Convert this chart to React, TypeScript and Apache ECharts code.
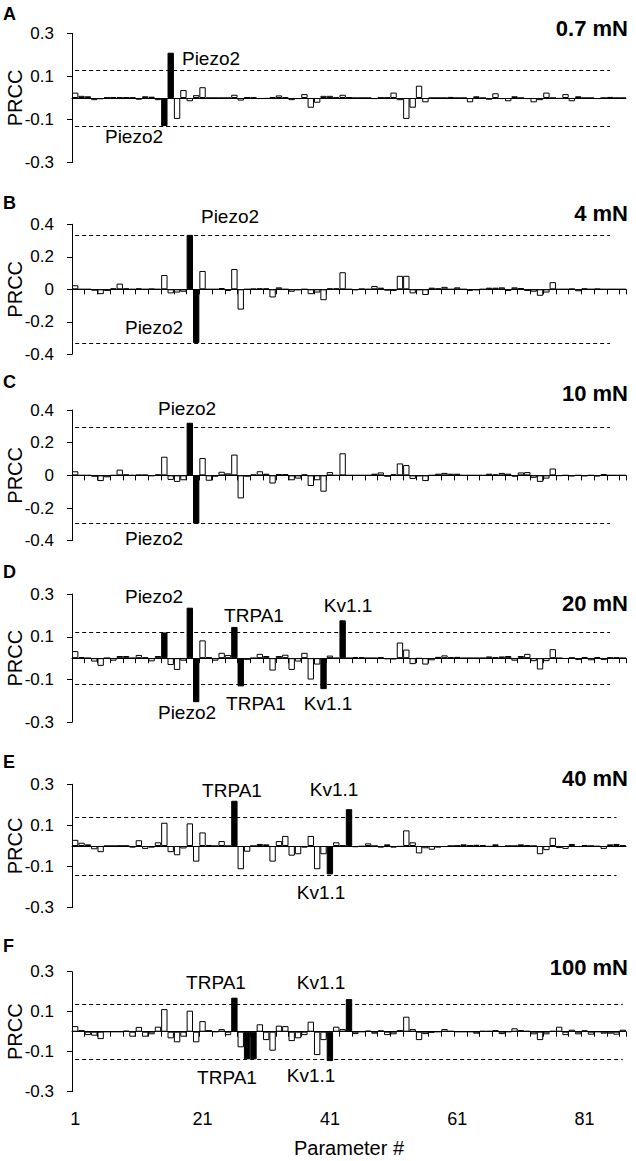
import React, { useEffect, useRef } from "react";
import * as echarts from "echarts";

// ---------- data ----------
const PARAMETERS: string[] = Array.from({ length: 87 }, (_, i) => String(i + 1));
const X_TICK_LABELS = ["1", "21", "41", "61", "81"];

const PRCC_0_7: number[] = [
  0.025, 0.01, 0.008, -0.01, -0.006, 0.002, 0.003, 0.004, 0.003, 0.002,
  -0.008, 0.008, 0.006, -0.01, -0.13, 0.21, -0.097, 0.037, -0.015, 0.013,
  0.05, 0, 0, 0, 0, 0.015, -0.012, 0.003, 0.002, -0.005,
  -0.004, 0.004, 0.012, 0.003, -0.01, -0.005, 0.018, -0.045, -0.022, 0.01,
  0.01, 0.002, 0.015, 0.003, 0, 0, 0, -0.005, 0.002, 0.002,
  0.025, -0.01, -0.097, -0.045, 0.057, -0.02, 0, 0, 0, 0.005,
  0, 0, -0.02, 0.008, 0, -0.008, 0.022, -0.005, -0.015, 0.008,
  0, -0.005, -0.02, -0.01, 0.025, 0, -0.004, 0.018, -0.015, 0.008,
  0, 0, -0.005, 0, 0.005, 0, 0,
];
const PRCC_4: number[] = [
  0.025, 0, 0, -0.008, -0.03, -0.01, 0.005, 0.035, 0.005, 0,
  0.005, 0, 0.003, 0, 0.088, -0.025, -0.02, -0.015, 0.335, -0.33,
  0.113, 0, 0, 0.008, -0.01, 0.125, -0.125, 0, 0.003, 0.005,
  0.005, -0.05, 0.012, 0, -0.015, -0.005, 0, -0.03, -0.02, -0.067,
  0.005, 0.005, 0.105, 0, -0.005, 0.003, 0, 0.02, 0.01, -0.008,
  -0.01, 0.083, 0.083, -0.025, -0.005, -0.035, 0.01, 0.005, 0.015, 0,
  0.012, 0, -0.01, -0.005, 0, 0.01, 0.01, 0.012, -0.01, 0.012,
  0.008, -0.01, -0.015, -0.04, -0.02, 0.044, 0, 0, 0.003, -0.012,
  0.005, 0, 0.003, 0, 0, 0, 0,
];
const PRCC_10: number[] = [
  0.025, 0, 0, -0.008, -0.035, -0.012, 0, 0.035, 0.005, 0,
  0.003, 0.003, -0.004, 0.005, 0.114, -0.028, -0.04, -0.03, 0.322, -0.295,
  0.106, -0.033, -0.008, 0.022, 0.012, 0.127, -0.141, -0.008, 0.005, 0.025,
  0.01, -0.05, 0.008, 0.008, -0.03, -0.02, 0.005, -0.065, -0.03, -0.1,
  0.02, 0, 0.135, 0, 0, 0, 0, 0.01, 0.018, -0.008,
  0.006, 0.073, 0.063, -0.022, -0.005, -0.035, 0, 0.01, 0.015, 0.01,
  0.01, 0, 0, 0, 0, 0.01, 0.005, 0.015, 0.01, -0.008,
  0.018, 0.02, -0.015, -0.04, -0.02, 0.042, -0.003, 0, -0.006, 0,
  -0.005, 0, -0.006, 0.008, 0, 0, 0,
];
const PRCC_20: number[] = [
  0.033, 0.005, 0, -0.016, -0.036, 0, -0.012, 0.01, 0.01, 0,
  0.015, 0.003, -0.015, 0.01, 0.12, -0.032, -0.055, -0.012, 0.236, -0.206,
  0.083, 0.004, -0.012, 0.025, 0.015, 0.146, -0.132, -0.008, 0, 0.02,
  0.01, -0.058, 0.01, 0.016, -0.055, -0.016, 0.025, -0.1, -0.03, -0.145,
  0.012, 0, 0.177, 0, 0.005, 0.004, 0, 0, 0.004, -0.005,
  -0.006, 0.073, 0.04, -0.028, -0.002, -0.03, -0.01, 0.006, 0.013, 0.004,
  0.006, 0, 0, 0, 0, 0.008, 0.004, 0.008, 0.01, -0.012,
  0.01, 0.02, -0.014, -0.053, -0.014, 0.042, 0, -0.003, 0.002, -0.008,
  0.004, -0.01, 0.004, -0.008, 0.003, 0.003, 0,
];
const PRCC_40: number[] = [
  0.03, 0.016, 0.008, -0.016, -0.03, 0, 0, 0.001, 0.001, -0.008,
  0.028, -0.014, -0.008, 0.018, 0.113, -0.03, -0.045, -0.012, 0.11, -0.076,
  0.066, 0.005, 0, 0.024, 0, 0.22, -0.113, -0.028, 0, 0.01,
  0.008, -0.076, 0.024, 0.049, -0.047, -0.04, -0.008, 0.049, -0.113, -0.04,
  -0.138, 0.018, 0.002, 0.179, -0.006, -0.003, 0.013, 0, -0.008, 0.008,
  -0.008, -0.004, 0.076, 0.018, -0.036, -0.011, -0.018, -0.008, -0.005, 0,
  0.002, 0.008, 0.003, 0.006, 0.004, -0.004, 0.008, -0.005, 0, 0,
  0.008, 0.003, 0, -0.04, -0.02, 0.04, -0.01, -0.014, 0.01, -0.005,
  0.005, 0, -0.003, -0.014, 0.008, 0.01, 0.005,
];
const PRCC_100: number[] = [
  0.028, 0.008, -0.017, -0.02, -0.037, 0, 0, 0, 0.005, -0.025,
  0.024, -0.025, -0.013, 0.025, 0.113, -0.033, -0.053, -0.025, 0.105, -0.053,
  0.053, 0.008, 0, 0.013, -0.017, 0.17, -0.078, -0.138, -0.138, 0.037,
  -0.042, -0.095, 0.03, 0.028, -0.047, -0.033, -0.017, 0.05, -0.117, -0.042,
  -0.147, 0.025, 0.013, 0.163, -0.012, 0, 0.005, -0.01, 0.007, -0.017,
  -0.013, 0.008, 0.075, 0.013, -0.042, -0.012, -0.005, 0, 0.013, 0.004,
  0, 0, 0, -0.01, 0.004, 0.004, 0.008, -0.012, 0, 0.017,
  0.008, 0.004, -0.013, -0.042, -0.013, 0.004, 0.025, -0.017, 0.01, -0.013,
  0.007, -0.015, 0, -0.01, -0.01, -0.015, 0.01,
];

// significant (black) parameters per panel
const SIG_0_7 = [15, 16];
const SIG_4 = [19, 20];
const SIG_10 = [19, 20];
const SIG_20 = [15, 19, 20, 26, 27, 40, 43];
const SIG_40 = [26, 41, 44];
const SIG_100 = [26, 28, 29, 41, 44];

// significance thresholds (dashed lines)
const THRESHOLDS = [0.13, 0.33, 0.295, 0.12, 0.14, 0.138];

// y tick labels
const TICKS_03 = [-0.3, -0.1, 0.1, 0.3];
const TICKS_04 = [-0.4, -0.2, 0, 0.2, 0.4];

const PANEL_LETTERS = ["A", "B", "C", "D", "E", "F"];
const FORCES = ["0.7 mN", "4 mN", "10 mN", "20 mN", "40 mN", "100 mN"];

// ---------- layout ----------
const FONT = "'Liberation Sans', Arial, Helvetica, sans-serif";
const GRID_LEFT = 72;
const GRID_WIDTH = 554;
const PANEL_TOP = [33.3, 224.3, 410, 594, 784.3, 971.7];
const PANEL_H = [129.4, 130, 130.7, 128.3, 123.4, 120];
const LETTER_Y = [14, 203, 382, 572, 762, 946];
const FORCE_Y = [28, 213.5, 393.5, 603, 778.5, 967];
const DASH_END = [84, 84, 84, 84, 85, 86];
const SHOW_X_TICKS = [false, true, true, true, false, true];

const ANNOTATIONS = [
  { text: "Piezo2", x: 211, y: 58 },
  { text: "Piezo2", x: 134, y: 136 },
  { text: "Piezo2", x: 230, y: 216 },
  { text: "Piezo2", x: 154, y: 327 },
  { text: "Piezo2", x: 187, y: 408 },
  { text: "Piezo2", x: 154, y: 538 },
  { text: "Piezo2", x: 154, y: 596 },
  { text: "TRPA1", x: 254, y: 615 },
  { text: "Kv1.1", x: 348, y: 605 },
  { text: "Piezo2", x: 187, y: 712 },
  { text: "TRPA1", x: 256, y: 703 },
  { text: "Kv1.1", x: 328, y: 703 },
  { text: "TRPA1", x: 232, y: 790 },
  { text: "Kv1.1", x: 334, y: 789 },
  { text: "Kv1.1", x: 321, y: 892 },
  { text: "TRPA1", x: 216, y: 982 },
  { text: "Kv1.1", x: 321, y: 982 },
  { text: "TRPA1", x: 227, y: 1077 },
  { text: "Kv1.1", x: 311, y: 1075 },
];

const PANELS = [
  { values: PRCC_0_7, sig: SIG_0_7, ticks: TICKS_03, yMax: 0.3 },
  { values: PRCC_4, sig: SIG_4, ticks: TICKS_04, yMax: 0.4 },
  { values: PRCC_10, sig: SIG_10, ticks: TICKS_04, yMax: 0.4 },
  { values: PRCC_20, sig: SIG_20, ticks: TICKS_03, yMax: 0.3 },
  { values: PRCC_40, sig: SIG_40, ticks: TICKS_03, yMax: 0.3 },
  { values: PRCC_100, sig: SIG_100, ticks: TICKS_03, yMax: 0.3 },
];

function fmt(v: number): string {
  const r = Math.round(v * 10) / 10;
  return r === 0 ? "0" : String(r);
}

function textEl(text: string, x: number, y: number, size: number, bold: boolean, align: string) {
  return {
    type: "text",
    x,
    y,
    silent: true,
    style: {
      text,
      fill: "#000",
      fontSize: size,
      fontWeight: bold ? "bold" : "normal",
      fontFamily: FONT,
      align,
      verticalAlign: "middle",
      textAlign: align,
      textVerticalAlign: "middle",
    },
  };
}

function buildOption() {
  const grid = PANELS.map((_, k) => ({
    left: GRID_LEFT,
    width: GRID_WIDTH,
    top: PANEL_TOP[k],
    height: PANEL_H[k],
    containLabel: false,
    outerBoundsMode: "none",
  }));

  const xAxis: any[] = PANELS.map((_, k) => ({
    type: "category",
    gridIndex: k,
    data: PARAMETERS,
    boundaryGap: true,
    axisLine: { show: true, onZero: true, lineStyle: { color: "#000", width: 1 } },
    axisTick: { show: SHOW_X_TICKS[k], interval: 1, length: 5, lineStyle: { color: "#000", width: 1 } },
    axisLabel: { show: false },
    splitLine: { show: false },
  }));
  xAxis.push({
    type: "category",
    gridIndex: 5,
    data: PARAMETERS,
    position: "bottom",
    axisLine: { show: false, onZero: false },
    axisTick: { show: false },
    axisLabel: {
      show: true,
      interval: (_i: number, v: string) => X_TICK_LABELS.includes(v),
      margin: 18,
      fontSize: 18,
      color: "#000",
      fontFamily: FONT,
    },
    splitLine: { show: false },
    name: "Parameter #",
    nameLocation: "middle",
    nameGap: 46,
    nameMoveOverlap: false,
    nameTextStyle: { fontSize: 20, color: "#000", fontFamily: FONT },
  });

  const yAxis = PANELS.map((p, k) => ({
    type: "value",
    gridIndex: k,
    min: -p.yMax,
    max: p.yMax,
    interval: 0.2,
    axisLine: { show: true, lineStyle: { color: "#000", width: 1 } },
    axisTick: { show: true, length: 5, customValues: p.ticks, lineStyle: { color: "#000", width: 1 } },
    axisLabel: {
      customValues: p.ticks,
      formatter: (v: number) => fmt(v),
      margin: 18,
      fontSize: 17,
      color: "#000",
      fontFamily: FONT,
    },
    splitLine: { show: false },
    name: "PRCC",
    nameLocation: "middle",
    nameGap: 47,
    nameMoveOverlap: false,
    nameTextStyle: { fontSize: 20, color: "#000", fontFamily: FONT },
  }));

  const series = PANELS.map((p, k) => ({
    type: "bar",
    xAxisIndex: k,
    yAxisIndex: k,
    barWidth: "100%",
    barCategoryGap: "0%",
    silent: true,
    itemStyle: { color: "#fff", borderColor: "#000", borderWidth: 1 },
    data: p.values.map((v, i) =>
      p.sig.includes(i + 1)
        ? { value: v, itemStyle: { color: "#000", borderColor: "#000" } }
        : v
    ),
    markLine: {
      silent: true,
      symbol: ["none", "none"],
      label: { show: false },
      lineStyle: { color: "#000", width: 1, type: [4, 3] },
      data: [
        [{ xAxis: 0, yAxis: THRESHOLDS[k] }, { xAxis: DASH_END[k], yAxis: THRESHOLDS[k] }],
        [{ xAxis: 0, yAxis: -THRESHOLDS[k] }, { xAxis: DASH_END[k], yAxis: -THRESHOLDS[k] }],
      ],
    },
  }));

  const graphic: any[] = [];
  PANEL_LETTERS.forEach((l, k) => graphic.push(textEl(l, 3, LETTER_Y[k], 18, true, "left")));
  FORCES.forEach((f, k) => graphic.push(textEl(f, 628, FORCE_Y[k], 22, true, "right")));
  ANNOTATIONS.forEach((a) => graphic.push(textEl(a.text, a.x, a.y, 19, false, "center")));

  return {
    animation: false,
    backgroundColor: "#fff",
    textStyle: { fontFamily: FONT, color: "#000" },
    grid,
    xAxis,
    yAxis,
    series,
    graphic,
  };
}

export default function App() {
  const ref = useRef<HTMLDivElement>(null);
  useEffect(() => {
    if (!ref.current) return;
    const chart = echarts.init(ref.current, null, { renderer: "svg" });
    chart.setOption(buildOption() as any);
    return () => chart.dispose();
  }, []);
  return (
    <div
      ref={ref}
      style={{ position: "absolute", left: 0, top: 0, width: 636, height: 1161, background: "#fff" }}
    />
  );
}
